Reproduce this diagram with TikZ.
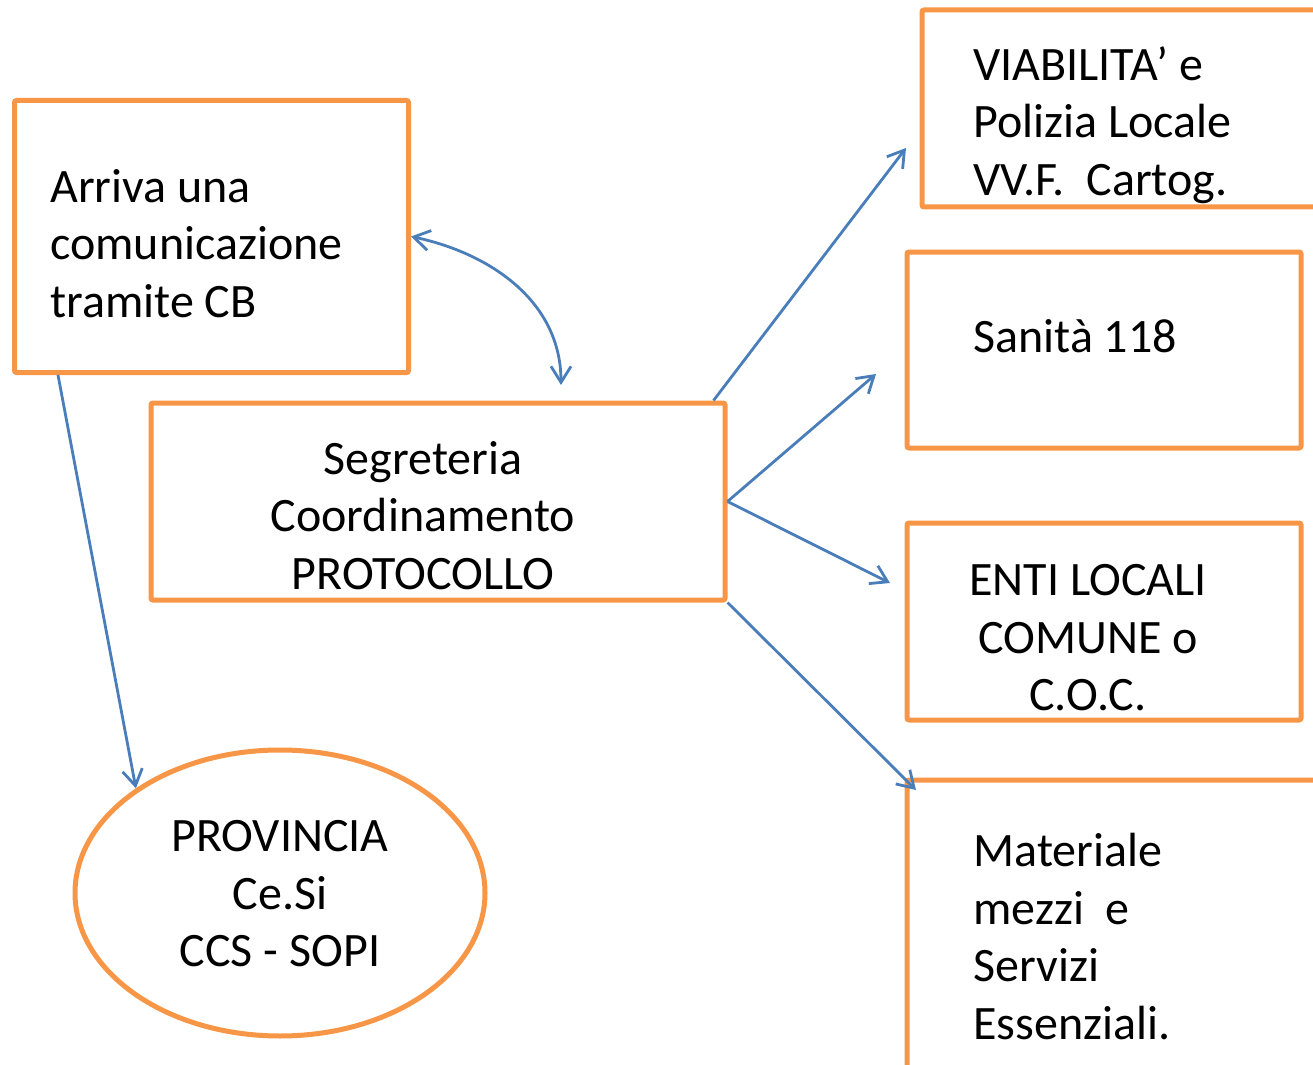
\documentclass[tikz,border=0pt]{standalone}
\usepackage{fontspec}
\setmainfont{Carlito}
\usetikzlibrary{arrows.meta,shapes.geometric}
\definecolor{bordo}{HTML}{F79646}
\definecolor{freccia}{HTML}{4A7EBB}

\begin{document}
\begin{tikzpicture}[x=0.5pt, y=-0.5pt,
    every node/.style={font=\fontsize{24pt}{28.75pt}\selectfont, inner sep=0pt},
    casella/.style={draw=bordo, line width=2.5pt, rounded corners=1pt},
    link/.style={draw=freccia, line width=1.4pt, -{Straight Barb[length=8pt,width=10pt]}}]
    \useasboundingbox (0,0) rectangle (1313,1065);
    \clip (0,0) rectangle (1313,1065);
    % caselle
    \node[casella, minimum width=197pt, minimum height=136pt] (arriva) at (211.5,236.5) {};
    \node[casella, minimum width=287pt, minimum height=98.5pt] (segr) at (438,501.5) {};
    \node[casella, minimum width=209pt, minimum height=98.5pt] (viab) at (1131,108.5) {};
    \node[casella, minimum width=197pt, minimum height=98pt] (sanita) at (1104,350) {};
    \node[casella, minimum width=197pt, minimum height=98.5pt] (enti) at (1104,621.5) {};
    \node[casella, minimum width=216.5pt, minimum height=160pt] (mater) at (1123.5,940) {};
    \node[casella, ellipse, minimum width=205pt, minimum height=143pt] (prov) at (280,893) {};
    % testi
    \node[align=left, anchor=north west] (t-arriva) at (50,169) {Arriva una\\comunicazione\\tramite CB};
    \node[align=center, anchor=north] (t-segr) at (423,441) {Segreteria\\Coordinamento\\PROTOCOLLO};
    \node[align=left, anchor=north west] (t-viab) at (973,46) {VIABILITA’ e\\Polizia Locale\\VV.F.~~Cartog.};
    \node[align=left, anchor=north west] (t-sanita) at (973,319) {Sanità 118};
    \node[align=center, anchor=north] (t-enti) at (1088,564) {ENTI LOCALI\\COMUNE o\\C.O.C.};
    \node[align=left, anchor=north west] (t-mater) at (973,833) {Materiale\\mezzi~~e\\Servizi\\Essenziali.};
    \node[align=center, anchor=north] (t-prov) at (280,820) {PROVINCIA\\Ce.Si\\CCS - SOPI};
    % punte libere delle frecce
    \coordinate (pA) at (561,385);
    \coordinate (pV) at (906,148);
    \coordinate (pS) at (876,374);
    \coordinate (pE) at (890,583);
    \coordinate (pM) at (916,790);
    % frecce
    \draw[link, {Straight Barb[length=8pt,width=10pt]}-{Straight Barb[length=8pt,width=10pt]}] (arriva.east) to[out=-12, in=90] (pA);
    \draw[link] ([xshift=23pt]arriva.south west) -- (prov.144);
    \draw[link] ([xshift=-7pt]segr.north east) -- (pV);
    \draw[link] (segr.east) -- (pS);
    \draw[link] (segr.east) -- (pE);
    \draw[link] (segr.south east) -- (pM);
\end{tikzpicture}
\end{document}
